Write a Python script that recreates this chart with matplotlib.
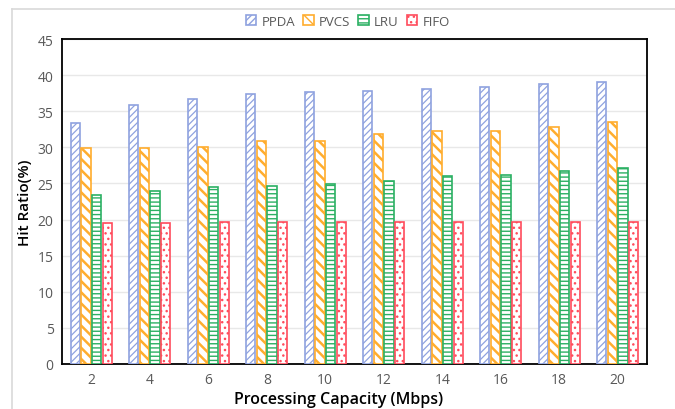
import matplotlib
matplotlib.use('Agg')
import matplotlib.pyplot as plt
from matplotlib.lines import Line2D
import numpy as np

plt.rcParams['font.family'] = ['Open Sans', 'DejaVu Sans']

# data
capacity = ['2', '4', '6', '8', '10', '12', '14', '16', '18', '20']
ppda = [33.4, 35.9, 36.7, 37.4, 37.6, 37.8, 38.1, 38.4, 38.8, 39.1]
pvcs = [29.9, 29.9, 30.0, 30.9, 30.9, 31.9, 32.2, 32.3, 32.8, 33.5]
lru = [23.4, 24.0, 24.5, 24.7, 24.9, 25.4, 26.0, 26.2, 26.7, 27.1]
fifo = [19.5, 19.5, 19.7, 19.7, 19.7, 19.7, 19.7, 19.7, 19.7, 19.7]
names = ['PPDA', 'PVCS', 'LRU', 'FIFO']

series = [ppda, pvcs, lru, fifo]
colors = ['#8fa2df', '#ffad2e', '#2bb063', '#ff4c5c']
hatches = ['/////', '\\\\\\', '----', '...']
hatch_lw = [0.9, 1.8, 1.0, 1.0]

fig = plt.figure(figsize=(6.75, 4.10), dpi=100)
ax = fig.add_axes([62/675, 45/410, 585/675, 325/410])

x = np.arange(len(capacity))
w = 0.155
step = 0.18
handles = []
for i, (vals, c, h) in enumerate(zip(series, colors, hatches)):
    pos = x + (i - 1.5) * step
    with plt.rc_context({'hatch.linewidth': hatch_lw[i]}):
        bars = ax.bar(pos, vals, width=w, facecolor='white', edgecolor=c,
                      hatch=h, linewidth=1.2, zorder=3, label=names[i])
    for b in bars:
        if hasattr(b, 'set_hatch_linewidth'):
            b.set_hatch_linewidth(hatch_lw[i])
    handles.append(bars)

ax.set_xlim(-0.5, len(capacity) - 0.5)
ax.set_ylim(0, 45)
ax.set_yticks(range(0, 46, 5))
ax.set_xticks(x)
ax.set_xticklabels(capacity)
ax.tick_params(axis='both', length=0, labelsize=10, labelcolor='#595959', pad=6)
ax.yaxis.grid(True, color='#e8e8e8', linewidth=1, zorder=0)
ax.set_axisbelow(True)
for s in ax.spines.values():
    s.set_color('black')
    s.set_linewidth(1.3)

ax.set_ylabel('Hit Ratio(%)', fontsize=11, fontweight='semibold')
ax.yaxis.set_label_coords(-0.052, 0.5)
ax.set_xlabel('Processing Capacity (Mbps)', fontsize=11.5, fontweight='semibold')
ax.xaxis.set_label_coords(0.472, -0.082)

leg = fig.legend(handles=handles, labels=names, loc='center', bbox_to_anchor=(0.515, 0.946),
                 ncol=4, frameon=False, fontsize=9.5, handlelength=0.8, handleheight=0.8,
                 handletextpad=0.4, columnspacing=0.6)
for t in leg.get_texts():
    t.set_color('#595959')

# light frame of the original figure
fig.add_artist(Line2D([12/675, 1], [1 - 9.5/410, 1 - 9.5/410], transform=fig.transFigure,
                      color='#d9d9d9', linewidth=1.2))
fig.add_artist(Line2D([12/675, 12/675], [0, 1 - 9.5/410], transform=fig.transFigure,
                      color='#d9d9d9', linewidth=1.2))

fig.savefig('out.png', dpi=100)
